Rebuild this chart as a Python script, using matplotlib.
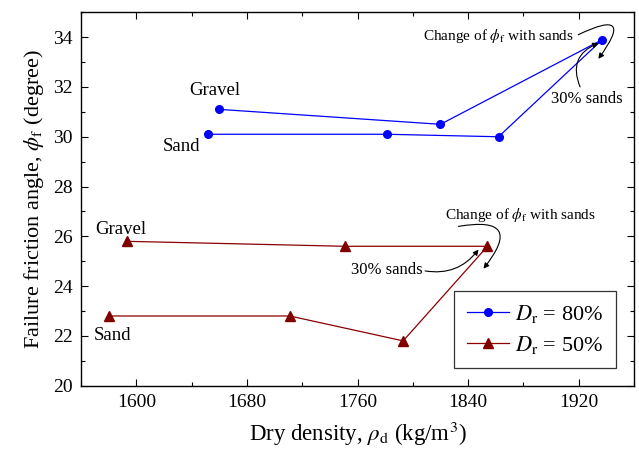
import matplotlib
matplotlib.use("Agg")
import matplotlib.pyplot as plt
from matplotlib.ticker import MultipleLocator

plt.rcParams["font.family"] = ["Liberation Serif", "DejaVu Serif"]
plt.rcParams["mathtext.fontset"] = "stix"

# D_r = 80 %: sand -> 30 % sands -> gravel (one path through the mixtures)
dense_x = [1652, 1781, 1862, 1937, 1820, 1660]
dense_y = [30.1, 30.1, 30.0, 33.9, 30.5, 31.1]
# D_r = 50 %
loose_x = [1580, 1711, 1793, 1854, 1751, 1593]
loose_y = [22.8, 22.8, 21.8, 25.6, 25.6, 25.8]

labels = [r"$D_\mathrm{r}$ = 80%", r"$D_\mathrm{r}$ = 50%"]
x_ticks = [1600, 1680, 1760, 1840, 1920]
y_ticks = [20, 22, 24, 26, 28, 30, 32, 34]

fig = plt.figure(figsize=(6.39, 4.5), dpi=100)
ax = fig.add_axes([0.1268, 0.1429, 0.8654, 0.8298])

ax.plot(dense_x, dense_y, color="#0000ff", lw=0.9, marker="o", ms=5.5,
        mfc="#0000ff", mec="#0000ff", label=labels[0])
ax.plot(loose_x, loose_y, color="#8b0000", lw=0.9, marker="^", ms=6.5,
        mfc="#800000", mec="#800000", label=labels[1])

ax.set_xlim(1560, 1960)
ax.set_ylim(20, 35)
ax.set_xticks(x_ticks)
ax.set_yticks(y_ticks)
ax.xaxis.set_minor_locator(MultipleLocator(40))
ax.yaxis.set_minor_locator(MultipleLocator(1))
ax.tick_params(which="both", direction="in", top=True, right=True,
               labeltop=False, labelright=False, width=0.8)
ax.tick_params(which="major", length=5, labelsize=14, pad=6)
ax.tick_params(which="minor", length=3)
for sp in ax.spines.values():
    sp.set_linewidth(1.0)

ax.set_xlabel(r"Dry density, $\rho_\mathrm{d}$ (kg/m$^3$)", fontsize=16.5, labelpad=6)
ax.set_ylabel(r"Failure friction angle, $\phi_\mathrm{f}$ (degree)", fontsize=16, labelpad=5)

# point labels
ax.text(1657, 31.86, "Gravel", fontsize=13.5, ha="center", va="center")
ax.text(1633, 29.6, "Sand", fontsize=13.5, ha="center", va="center")
ax.text(1589, 26.28, "Gravel", fontsize=13.5, ha="center", va="center")
ax.text(1583, 22.0, "Sand", fontsize=13.5, ha="center", va="center")

change_txt = r"Change of $\phi_\mathrm{f}$ with sands"
ax.text(1862, 34.03, change_txt, fontsize=11, ha="center", va="center")
ax.text(1926, 31.5, "30% sands", fontsize=12, ha="center", va="center")
ax.text(1878, 26.85, change_txt, fontsize=11, ha="center", va="center")
ax.text(1781, 24.64, "30% sands", fontsize=12, ha="center", va="center")

arrow = dict(arrowstyle="-|>", color="black", lw=0.8, shrinkA=0, shrinkB=0,
             mutation_scale=8)
ax.annotate("", xy=(1934.2, 33.13), xytext=(1919.7, 34.10),
            arrowprops=dict(arrow, connectionstyle="arc3,rad=-2"))
ax.annotate("", xy=(1934.2, 33.76), xytext=(1921, 32.0),
            arrowprops=dict(arrow, connectionstyle="arc3,rad=-0.5"))
ax.annotate("", xy=(1847.5, 25.47), xytext=(1808.9, 24.61),
            arrowprops=dict(arrow, connectionstyle="arc3,rad=0.3"))
ax.annotate("", xy=(1851.1, 24.70), xytext=(1833, 26.4),
            arrowprops=dict(arrow, connectionstyle="arc3,rad=-1.3"))

leg = ax.legend(loc="lower right", bbox_to_anchor=(0.967, 0.047), fontsize=16,
                frameon=True, fancybox=False, edgecolor="black",
                handlelength=1.9, handletextpad=0.3, borderpad=0.55,
                labelspacing=0.4, borderaxespad=0)
leg.get_frame().set_linewidth(0.9)

fig.savefig("out.png", dpi=100)
